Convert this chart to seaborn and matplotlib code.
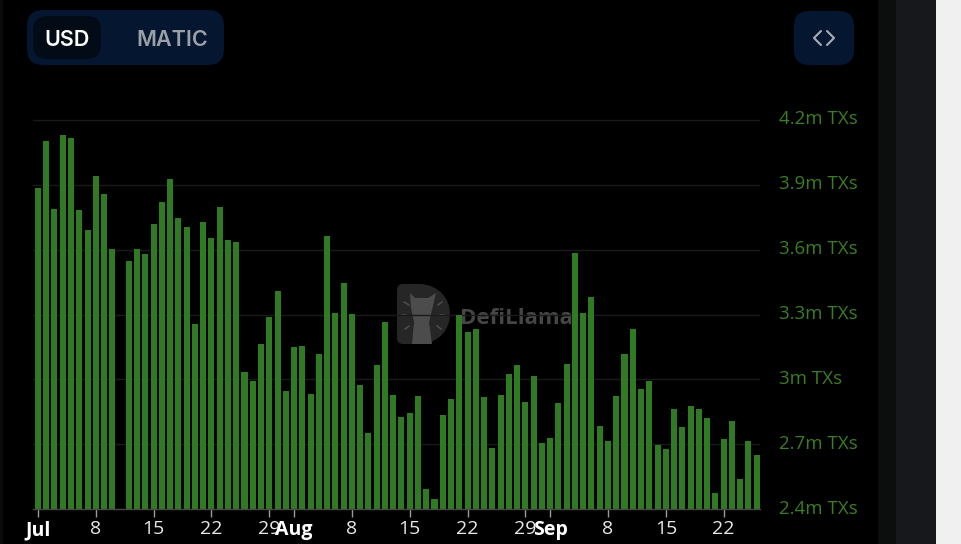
import numpy as np
import pandas as pd
import matplotlib
matplotlib.use('Agg')
import matplotlib.pyplot as plt
import seaborn as sns
from matplotlib.patches import FancyBboxPatch, Rectangle, Polygon, PathPatch
from matplotlib.path import Path
from matplotlib.transforms import ScaledTranslation

# daily transactions in millions, jul 1 -> sep 26 (jul 11 has no bar)
txs = [3.883, 4.102, 3.788, 4.128, 4.116, 3.785, 3.691, 3.940, 3.857, 3.601, np.nan,
       3.547, 3.603, 3.580, 3.717, 3.820, 3.925, 3.748, 3.703, 3.256, 3.728, 3.654,
       3.798, 3.644, 3.634, 3.033, 2.993, 3.164, 3.290, 3.409, 2.947, 3.150, 3.155,
       2.934, 3.116, 3.664, 3.306, 3.446, 3.303, 2.974, 2.753, 3.065, 3.264, 2.928,
       2.827, 2.845, 2.924, 2.494, 2.448, 2.836, 2.908, 3.298, 3.219, 3.233, 2.917,
       2.683, 2.928, 3.024, 3.065, 2.894, 3.015, 2.705, 2.731, 2.890, 3.070, 3.584,
       3.307, 3.380, 2.787, 2.714, 2.924, 3.116, 3.233, 2.956, 2.993, 2.696, 2.680,
       2.862, 2.779, 2.877, 2.864, 2.822, 2.477, 2.727, 2.807, 2.540, 2.714, 2.649]
days = list(pd.date_range('2023-07-01', periods=len(txs)).strftime('%m-%d'))

x_ticks = ['07-01', '07-08', '07-15', '07-22', '07-29', '08-01', '08-08', '08-15',
           '08-22', '08-29', '09-01', '09-08', '09-15', '09-22']
x_labels = ['Jul', '8', '15', '22', '29', 'Aug', '8', '15', '22', '29', 'Sep', '8', '15', '22']
y_ticks = [2.4, 2.7, 3.0, 3.3, 3.6, 3.9, 4.2]
y_labels = ['2.4m TXs', '2.7m TXs', '3m TXs', '3.3m TXs', '3.6m TXs', '3.9m TXs', '4.2m TXs']
months = ['Jul', 'Aug', 'Sep']

GREEN = '#307a24'
W, H = 961, 544

sns.set_theme(style='dark')
plt.rcParams['font.family'] = ['Open Sans', 'DejaVu Sans']

df = pd.DataFrame({'day': days, 'txs': txs})

fig = plt.figure(figsize=(W / 100, H / 100), dpi=100, facecolor='black')

# page furniture goes in a pixel-coordinate axes under the chart
bg = fig.add_axes([0, 0, 1, 1], zorder=0)
bg.set_xlim(0, W)
bg.set_ylim(H, 0)
bg.axis('off')
bg.add_patch(Rectangle((0, 0), 3, H, color='#0a0c0b', lw=0))
bg.add_patch(Rectangle((878, 0), 18, H, color='#0c0e0d', lw=0))
bg.add_patch(Rectangle((896, 0), 40, H, color='#17181c', lw=0))
bg.add_patch(Rectangle((936, 0), 25, H, color='#f0f0f0', lw=0))


def rounded(x0, y0, x1, y1, r, color):
    bg.add_patch(FancyBboxPatch((x0 + r, y0 + r), x1 - x0 - 2 * r, y1 - y0 - 2 * r,
                                boxstyle='round,pad=%d,rounding_size=%d' % (r, r),
                                fc=color, ec='none', lw=0))


rounded(27, 10, 224, 65, 16, '#051730')
rounded(33, 16, 101, 59, 14, '#020b16')
rounded(794, 11, 854, 65, 15, '#051730')
bg.text(67, 38, 'USD', color='white', fontsize=15.5, fontweight='semibold', ha='center', va='center_baseline', family='Inter')
bg.text(172, 38, 'MATIC', color='#9aa0a6', fontsize=15.5, fontweight='semibold', ha='center', va='center_baseline', family='Inter')
bg.plot([821, 814, 821], [31, 38, 45], color='#a9adb3', lw=1.5)
bg.plot([827, 834, 827], [31, 38, 45], color='#a9adb3', lw=1.5)

# watermark
codes = [Path.MOVETO, Path.LINETO, Path.CURVE4, Path.CURVE4, Path.CURVE4, Path.LINETO,
         Path.CURVE3, Path.CURVE3, Path.LINETO, Path.CURVE3, Path.CURVE3, Path.CLOSEPOLY]
verts = [(403, 284), (420, 284), (460, 286), (460, 342), (420, 344), (403, 344),
         (397, 344), (397, 338), (397, 290), (397, 284), (403, 284), (403, 284)]
bg.add_patch(PathPatch(Path(verts, codes), fc='#262626', ec='none', zorder=2))
bg.add_patch(Polygon([(410, 293), (415, 298), (428, 298), (436, 293), (432, 310), (429, 322),
                      (432, 344), (412, 344), (414, 322), (411, 308)],
                     fc='#4c4c4c', ec='none', zorder=3))
for a, b in [((404, 302), (409, 305)), ((438, 305), (442, 302)), ((402, 315), (406, 315)),
             ((440, 315), (444, 315)), ((405, 329), (409, 326)), ((437, 326), (441, 329))]:
    bg.plot([a[0], b[0]], [a[1], b[1]], color='#4c4c4c', lw=1.2, zorder=3)
bg.text(460, 316, 'DefiLlama', color='#464646', fontsize=16, fontweight='bold',
        ha='left', va='center_baseline', family='Open Sans', zorder=3)

# chart axes, 33..760 px wide, baseline at 509.3 px
x0, x1 = 33, 760
y_base, y_top = 509.3, 88
ax = fig.add_axes([x0 / W, 1 - y_base / H, (x1 - x0) / W, (y_base - y_top) / H], zorder=1)
ax.patch.set_alpha(0)

sns.barplot(data=df, x='day', y='txs', order=days, color=GREEN, saturation=1, width=0.73,
            linewidth=0, ax=ax)

ax.set_xlim(-0.6, 87.4)
ax.set_ylim(2.4, 2.4 + (y_base - y_top) / 216.4)
ax.set_xlabel('')
ax.set_ylabel('')
for s in ['top', 'left', 'right']:
    ax.spines[s].set_visible(False)
ax.spines['bottom'].set_color('#484848')
ax.spines['bottom'].set_linewidth(1)

ax.set_yticks(y_ticks)
ax.set_yticklabels(y_labels)
ax.yaxis.tick_right()
ax.tick_params(axis='y', length=0, pad=14, labelsize=13.5, labelcolor='#3a7d22')
ax.grid(False)
ax.set_axisbelow(True)
for v in y_ticks[1:]:
    ax.axhline(v, color='#1a1a1a', lw=1, zorder=0)

ax.set_xticks([days.index(d) for d in x_ticks])
ax.set_xticklabels(x_labels)
ax.tick_params(axis='x', length=6, width=1, color='#9a9a9a', pad=1.8, labelsize=14, labelcolor='#e8e8e8', bottom=True)
for lab in ax.get_xticklabels():
    if lab.get_text() in months:
        lab.set_fontweight('bold')
        lab.set_color('white')
        lab.set_zorder(5)

shift = ScaledTranslation(0, 2 / 72, fig.dpi_scale_trans)
for lab in ax.get_yticklabels():
    lab.set_transform(lab.get_transform() + shift)

fig.savefig('out.png', dpi=100, facecolor=fig.get_facecolor())
